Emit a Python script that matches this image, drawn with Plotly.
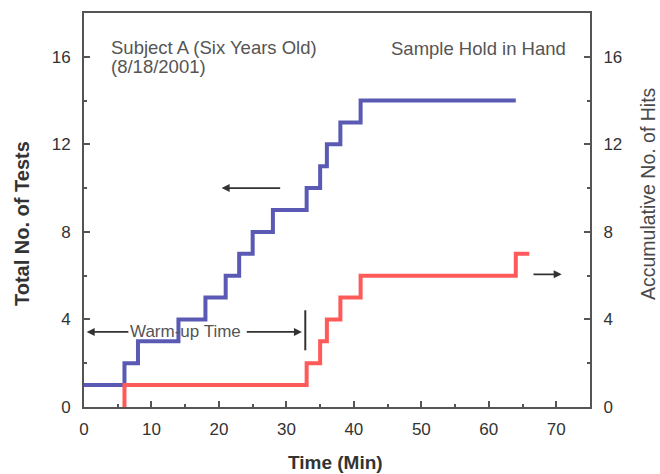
import plotly.graph_objects as go

# ---- data ----
tests_time = [0, 6, 8, 14, 18, 21, 23, 25, 28, 33, 35, 36, 38, 41, 64]
tests_total = [1, 2, 3, 4, 5, 6, 7, 8, 9, 10, 11, 12, 13, 14, 14]

hits_time = [6, 6, 33, 35, 36, 38, 41, 64, 66]
hits_total = [0, 1, 2, 3, 4, 5, 6, 7, 7]

x_ticks = [0, 10, 20, 30, 40, 50, 60, 70]
y_ticks = [0, 4, 8, 12, 16]

FONT = "Liberation Sans, Arial, Helvetica, sans-serif"
TXT = "#333333"
ANN = "#555555"
AX = "#555555"

fig = go.Figure()
fig.add_trace(go.Scatter(x=tests_time, y=tests_total, mode="lines",
                         line=dict(color="#5a5ab4", width=4, shape="hv"),
                         showlegend=False, yaxis="y"))
fig.add_trace(go.Scatter(x=hits_time, y=hits_total, mode="lines",
                         line=dict(color="#ff5a5a", width=4, shape="hv"),
                         showlegend=False, yaxis="y2"))

tickfont = dict(family=FONT, size=17, color=TXT)
minor_y = dict(ticks="inside", ticklen=3, dtick=2, tickcolor=AX, tickwidth=1.5)
minor_x = dict(ticks="inside", ticklen=3, dtick=5, tickcolor=AX, tickwidth=1.5)

fig.update_layout(
    width=660, height=474,
    margin=dict(l=84, r=70, t=13, b=67),
    paper_bgcolor="white", plot_bgcolor="white",
    font=dict(family=FONT, color=TXT),
    xaxis=dict(range=[0, 75], tickvals=x_ticks, ticks="inside", ticklen=6,
               tickwidth=1.5, tickcolor=AX, showline=True, linecolor=AX,
               linewidth=2, mirror=True, showgrid=False, zeroline=False,
               tickfont=tickfont, minor=minor_x, ticklabelstandoff=6),
    yaxis=dict(range=[0, 18], tickvals=y_ticks, ticks="inside", ticklen=6,
               tickwidth=1.5, tickcolor=AX, showline=True, linecolor=AX,
               linewidth=2, showgrid=False, zeroline=False,
               tickfont=tickfont, minor=minor_y, ticklabelstandoff=8),
    yaxis2=dict(range=[0, 18], tickvals=y_ticks, ticks="inside", ticklen=6,
                tickwidth=1.5, tickcolor=AX, showline=True, linecolor=AX,
                linewidth=2, showgrid=False, zeroline=False, overlaying="y",
                side="right", tickfont=tickfont, minor=minor_y,
                ticklabelstandoff=8),
)

annotations = [
    dict(text="Total No. of Tests", xref="paper", yref="paper", x=-0.1225,
         y=0.4645, textangle=-90, showarrow=False, xanchor="center", yanchor="middle",
         font=dict(size=20, color=TXT, family=FONT, weight="bold")),
    dict(text="Accumulative No. of Hits", xref="paper", yref="paper",
         x=1.1146, y=0.543, textangle=-90, showarrow=False,
         xanchor="center", yanchor="middle",
         font=dict(size=19.5, color="#4a4a4a", family=FONT)),
    dict(text="Time (Min)", xref="paper", yref="paper", x=0.498, y=-0.1396,
         showarrow=False, xanchor="center", yanchor="middle",
         font=dict(size=19, color=TXT, family=FONT, weight="bold")),
    dict(text="Subject A (Six Years Old)", xref="x", yref="y", x=3.7, y=16.42,
         xanchor="left", yanchor="middle", showarrow=False,
         font=dict(size=18.5, color=ANN, family=FONT)),
    dict(text="(8/18/2001)", xref="x", yref="y", x=3.7, y=15.55,
         xanchor="left", yanchor="middle", showarrow=False,
         font=dict(size=18.5, color=ANN, family=FONT)),
    dict(text="Sample Hold in Hand", xref="x", yref="y", x=71.7, y=16.37,
         xanchor="right", yanchor="middle", showarrow=False,
         font=dict(size=18.5, color=ANN, family=FONT)),
    dict(text="Warm-up Time", xref="x", yref="y", x=15.1, y=3.43,
         xanchor="center", yanchor="middle", showarrow=False,
         font=dict(size=17, color=ANN, family=FONT)),
    # arrows
    dict(text="", xref="x", yref="y", axref="x", ayref="y", x=20.4, y=10.0,
         ax=29.3, ay=10.0, showarrow=True, arrowhead=2, arrowsize=1,
         arrowwidth=1.6, arrowcolor="#333333"),
    dict(text="", xref="x", yref="y", axref="x", ayref="y", x=70.8, y=6.06,
         ax=66.4, ay=6.06, showarrow=True, arrowhead=2, arrowsize=1,
         arrowwidth=1.6, arrowcolor="#333333"),
    dict(text="", xref="x", yref="y", axref="x", ayref="y", x=0.4, y=3.43,
         ax=6.8, ay=3.43, showarrow=True, arrowhead=2, arrowsize=1,
         arrowwidth=1.6, arrowcolor="#333333"),
    dict(text="", xref="x", yref="y", axref="x", ayref="y", x=32.3, y=3.43,
         ax=23.9, ay=3.43, showarrow=True, arrowhead=2, arrowsize=1,
         arrowwidth=1.6, arrowcolor="#333333"),
]
fig.update_layout(annotations=annotations)

fig.add_shape(type="line", xref="x", yref="y", x0=32.8, x1=32.8, y0=2.59,
              y1=4.42, line=dict(color="#333333", width=2))

fig.write_html("out.html")
